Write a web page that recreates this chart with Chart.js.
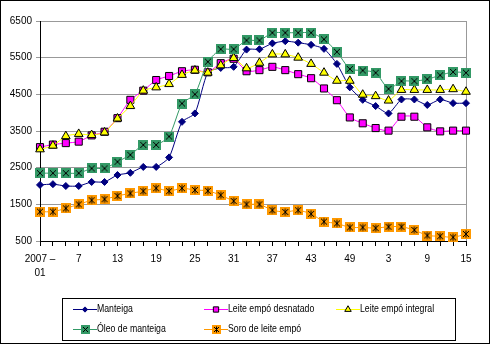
<!DOCTYPE html>
<html>
<head>
<meta charset="utf-8">
<script src="https://cdn.jsdelivr.net/npm/chart.js@4/dist/chart.umd.min.js"></script>
<style>
  html, body { margin: 0; padding: 0; background: #fff; }
  canvas { display: block; }
</style>
</head>
<body>
<canvas id="c" width="490" height="344"></canvas>
<script>
// Fortnightly price series, 2007 week 1 to 2008 week 15
const weeks = [
  '2007-01','2007-03','2007-05','2007-07','2007-09','2007-11','2007-13','2007-15','2007-17',
  '2007-19','2007-21','2007-23','2007-25','2007-27','2007-29','2007-31','2007-33','2007-35',
  '2007-37','2007-39','2007-41','2007-43','2007-45','2007-47','2007-49','2007-51',
  '2008-01','2008-03','2008-05','2008-07','2008-09','2008-11','2008-13','2008-15'
];
// Labels shown on every third week
const tickLabels = [['2007 –', '01'], '7', '13', '19', '25', '31', '37', '43', '49', '3', '9', '15'];
const yTicks = [500, 1500, 2500, 3500, 4500, 5500, 6500];

const manteiga = [2030, 2050, 2000, 2000, 2110, 2110, 2300, 2360, 2520, 2520, 2780, 3750,
  3980, 5100, 5220, 5250, 5720, 5730, 5890, 5950, 5910, 5850, 5740, 5330, 4690, 4350,
  4180, 3980, 4360, 4360, 4210, 4360, 4260, 4260];
const leiteDesnatado = [3060, 3130, 3170, 3210, 3380, 3480, 3850, 4350, 4600, 4890, 5000, 5130,
  5170, 5100, 5350, 5470, 5130, 5160, 5250, 5160, 5050, 4940, 4660, 4340, 3870, 3710,
  3580, 3510, 3890, 3890, 3600, 3490, 3510, 3510];
const leiteIntegral = [3000, 3100, 3360, 3420, 3390, 3460, 3840, 4180, 4600, 4690, 4780, 5030,
  5150, 5090, 5290, 5490, 5210, 5360, 5590, 5590, 5500, 5330, 5090, 4870, 4870, 4490,
  4450, 4330, 4620, 4620, 4620, 4620, 4640, 4570];
const oleoManteiga = [2350, 2350, 2350, 2350, 2480, 2480, 2660, 2850, 3120, 3120, 3350, 4250,
  4500, 5390, 5730, 5730, 5970, 5970, 6180, 6180, 6180, 6180, 6000, 5660, 5190, 5150,
  5090, 4650, 4860, 4860, 4910, 5020, 5110, 5090];
const soroLeite = [1300, 1300, 1390, 1500, 1610, 1640, 1730, 1800, 1860, 1940, 1860, 1940,
  1890, 1870, 1750, 1590, 1500, 1500, 1340, 1290, 1340, 1240, 1030, 980, 870, 870,
  850, 890, 890, 800, 650, 630, 600, 690];

const seriesNames = ['Manteiga', 'Leite empó desnatado', 'Leite empó integral', 'Óleo de manteiga', 'Soro de leite empó'];

// Square marker with a cross (and optional vertical bar)
function boxMarker(fill, withBar, size) {
  const cv = document.createElement('canvas');
  cv.width = size; cv.height = size;
  const g = cv.getContext('2d');
  g.fillStyle = fill;
  g.fillRect(0, 0, size, size);
  g.strokeStyle = '#000';
  g.lineWidth = 1;
  const a = 2, b = size - 2;
  g.beginPath();
  g.moveTo(a, a); g.lineTo(b, b);
  g.moveTo(b, a); g.lineTo(a, b);
  if (withBar) { g.moveTo(size / 2, a - 0.5); g.lineTo(size / 2, b + 0.5); }
  g.stroke();
  return cv;
}

const greenMark = boxMarker('#339966', false, 10);
const orangeMark = boxMarker('#FF9900', true, 10);
const greenMarkSmall = boxMarker('#339966', false, 9);
const orangeMarkSmall = boxMarker('#FF9900', true, 9);

const FONT = "'Liberation Sans', Arial, sans-serif";

function line(label, data, color, style, radius, fill, border, order, legendMark) {
  return {
    label, data, order,
    borderColor: color, borderWidth: 1,
    pointStyle: style, pointRadius: radius, pointHoverRadius: radius,
    pointBackgroundColor: fill, pointBorderColor: border, pointBorderWidth: 1,
    tension: 0.2, fill: false, clip: false,
    legendMark
  };
}

const datasets = [
  line(seriesNames[0], manteiga, '#000080', 'rectRot', 3.5, '#000080', '#000080', 4, null),
  line(seriesNames[1], leiteDesnatado, '#FF00FF', 'rect', 5, '#FF00FF', '#000000', 3, null),
  line(seriesNames[2], leiteIntegral, '#FFFF00', 'triangle', 5, '#FFFF00', '#000000', 2, null),
  line(seriesNames[3], oleoManteiga, '#339966', greenMark, 5, '#339966', '#339966', 1, greenMarkSmall),
  line(seriesNames[4], soroLeite, '#FF9900', orangeMark, 5, '#FF9900', '#FF9900', 0, orangeMarkSmall)
];

// Page background, right edge of plot frame, outer border and boxed legend
const framePlugin = {
  id: 'frame',
  beforeDraw(chart) {
    const ctx = chart.ctx;
    ctx.save();
    ctx.fillStyle = '#fff';
    ctx.fillRect(0, 0, chart.width, chart.height);
    ctx.restore();
  },
  beforeDatasetsDraw(chart) {
    const ctx = chart.ctx;
    const area = chart.chartArea;
    ctx.save();
    ctx.strokeStyle = '#999';
    ctx.lineWidth = 1;
    ctx.beginPath();
    ctx.moveTo(Math.round(area.right) + 0.5, area.top);
    ctx.lineTo(Math.round(area.right) + 0.5, area.bottom);
    ctx.stroke();
    ctx.restore();
  },
  afterDraw(chart) {
    const ctx = chart.ctx;
    ctx.save();
    ctx.strokeStyle = '#000';
    ctx.lineWidth = 1;
    ctx.strokeRect(0.5, 0.5, chart.width - 1, chart.height - 1);

    // legend box
    ctx.strokeRect(62.5, 298.5, 393, 42);
    const cols = [73, 204, 336];
    const rows = [309, 329];
    chart.data.datasets.forEach((ds, i) => {
      const x = cols[i % 3], y = rows[Math.floor(i / 3)] + 0.5;
      ctx.strokeStyle = ds.borderColor;
      ctx.lineWidth = 1;
      ctx.beginPath();
      ctx.moveTo(x, y); ctx.lineTo(x + 24, y);
      ctx.stroke();
      const cx = x + 12;
      if (ds.legendMark) {
        const m = ds.legendMark;
        ctx.drawImage(m, Math.round(cx - m.width / 2), Math.round(y - m.height / 2));
      } else {
        ctx.fillStyle = ds.pointBackgroundColor;
        ctx.strokeStyle = ds.pointBorderColor;
        Chart.helpers.drawPoint(ctx, { pointStyle: ds.pointStyle, radius: ds.pointRadius * 0.75, borderWidth: 1, rotation: 0 }, cx, y);
      }
      // condensed legend lettering
      ctx.save();
      ctx.translate(x + 24, y);
      ctx.scale(0.83, 1);
      ctx.fillStyle = '#000';
      ctx.font = "10.5px " + FONT;
      ctx.textBaseline = 'middle';
      ctx.textAlign = 'left';
      ctx.fillText(ds.label, 0, 0);
      ctx.restore();
    });
    ctx.restore();
  }
};

new Chart(document.getElementById('c'), {
  type: 'line',
  data: { labels: weeks, datasets },
  options: {
    responsive: false,
    animation: false,
    devicePixelRatio: 1,
    layout: { padding: { left: 0, right: 24, top: 21, bottom: 0 } },
    plugins: { legend: { display: false }, tooltip: { enabled: false } },
    scales: {
      x: {
        offset: false,
        grid: { drawOnChartArea: false, drawTicks: true, tickLength: 5, color: '#000' },
        border: { color: '#000', width: 1 },
        ticks: {
          autoSkip: false, maxRotation: 0, minRotation: 0, padding: 6,
          color: '#000', font: { family: FONT, size: 10, lineHeight: 1.4 },
          callback: (v, i) => (i % 3 === 0 ? tickLabels[i / 3] : '')
        },
        afterFit(scale) { scale.height = 103; }
      },
      y: {
        min: yTicks[0], max: yTicks[yTicks.length - 1],
        afterBuildTicks(scale) { scale.ticks = yTicks.map(v => ({ value: v })); },
        grid: { color: '#999', tickLength: 4, tickColor: '#999' },
        border: { color: '#000', width: 1 },
        ticks: { padding: 4, color: '#000', font: { family: FONT, size: 10 }, callback: v => String(v) },
        afterFit(scale) { scale.width = 40; }
      }
    }
  },
  plugins: [framePlugin]
});
</script>
</body>
</html>
